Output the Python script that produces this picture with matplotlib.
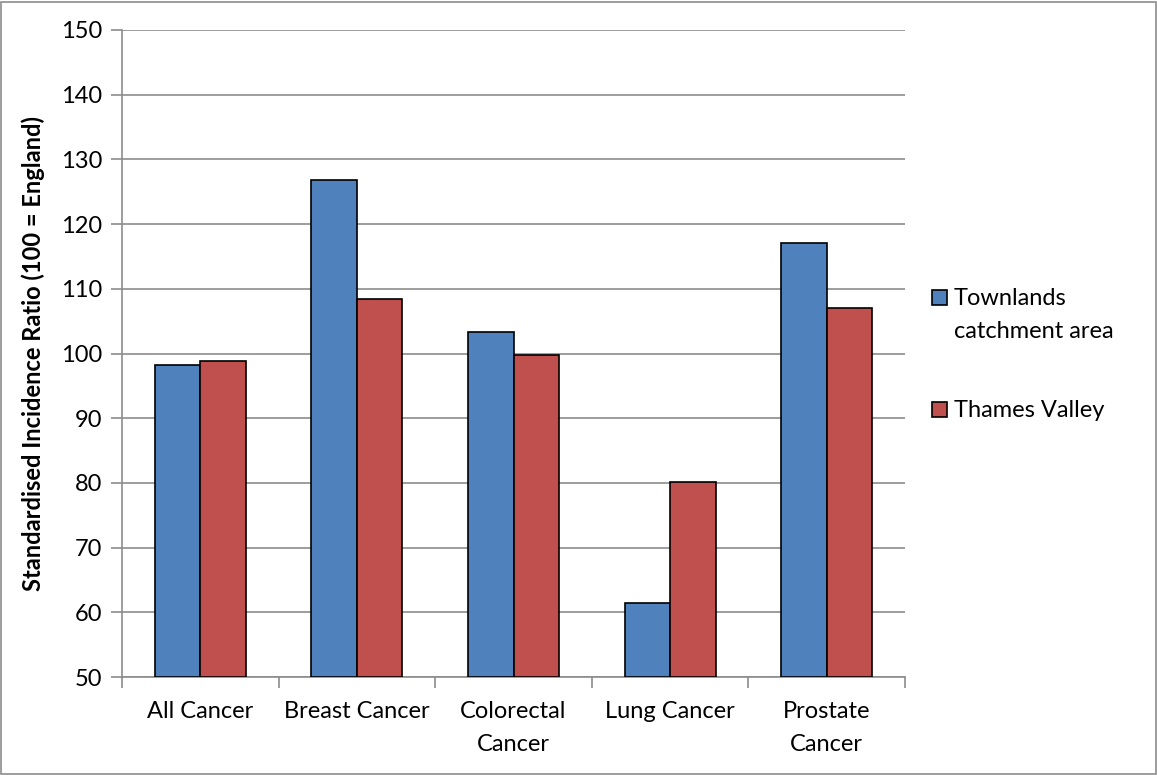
import numpy as np
import matplotlib
matplotlib.use('Agg')
from matplotlib import pyplot as plt
from matplotlib.patches import Rectangle

categories = ['All Cancer', 'Breast Cancer', 'Colorectal\nCancer', 'Lung Cancer', 'Prostate\nCancer']
townlands = [98.2, 126.8, 103.3, 61.4, 117.1]
thames_valley = [98.9, 108.4, 99.8, 80.1, 107.0]
series_names = ['Townlands\ncatchment area', 'Thames Valley']
colors = ['#4f81bd', '#c0504d']

plt.rcParams['font.family'] = ['Lato', 'DejaVu Sans']

W, H = 1157, 775
fig = plt.figure(figsize=(W/100, H/100), dpi=100)
ax = fig.add_axes([122/W, 1-677/H, (905-122)/W, (677-30)/H])

x = np.arange(len(categories))
w = 0.29
base = 50
ax.bar(x - w/2, np.array(townlands) - base, w, bottom=base, color=colors[0],
       edgecolor='black', linewidth=1.2, zorder=3)
ax.bar(x + w/2, np.array(thames_valley) - base, w, bottom=base, color=colors[1],
       edgecolor='black', linewidth=1.2, zorder=3)

ax.set_xlim(-0.5, len(categories) - 0.5)
ax.set_ylim(50, 150)
ax.set_yticks(range(50, 151, 10))
ax.yaxis.grid(True, color='#8c8c8c', linewidth=1.2, zorder=0)

# category ticks sit on the boundaries between groups
ax.set_xticks(np.arange(-0.5, len(categories), 1))
ax.set_xticklabels([])
ax.set_xticks(x, minor=True)
ax.set_xticklabels(categories, minor=True, fontsize=17, linespacing=1.75)
ax.tick_params(axis='x', which='minor', length=0, pad=17)
ax.tick_params(axis='x', which='major', length=8, width=1.2, color='#8c8c8c', direction='out')
ax.tick_params(axis='y', length=8, width=1.2, color='#8c8c8c', labelsize=17, pad=6)

for side in ['top', 'right']:
    ax.spines[side].set_visible(False)
for side in ['left', 'bottom']:
    ax.spines[side].set_color('#8c8c8c')
    ax.spines[side].set_linewidth(1.2)

ax.set_ylabel('Standardised Incidence Ratio (100 = England)', fontsize=17,
              fontweight='bold', labelpad=12)

# legend: swatch lined up with the first line of each entry
legend_rows = [298, 410]
for name, color, row in zip(series_names, colors, legend_rows):
    fig.patches.append(Rectangle((932/W, 1-(row+7)/H), 15/W, 15/H, transform=fig.transFigure,
                                 facecolor=color, edgecolor='black', linewidth=1.2))
    fig.text(954/W, 1-(row-10)/H, name, fontsize=17, va='top', ha='left', linespacing=1.7)

fig.patches.append(Rectangle((0.001, 0.001), 0.998, 0.997, transform=fig.transFigure,
                             fill=False, edgecolor='#8c8c8c', linewidth=1.2))

fig.savefig('out.png', dpi=100)
